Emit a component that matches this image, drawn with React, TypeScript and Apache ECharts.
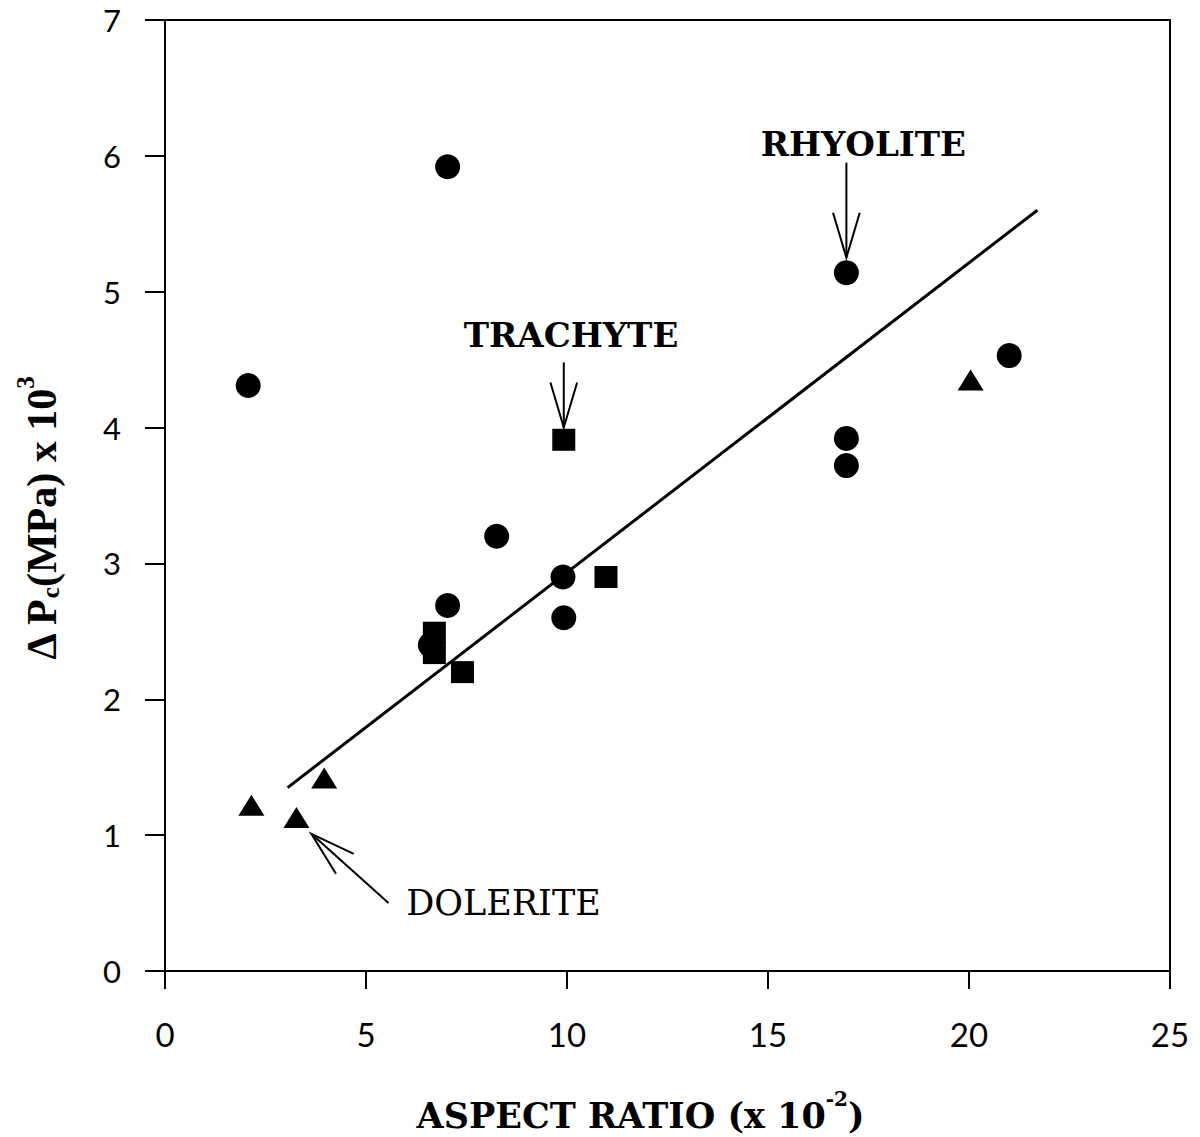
import React, { useEffect, useRef } from "react";
import * as echarts from "echarts";

const xTicks = [0, 5, 10, 15, 20, 25];
const yTicks = [0, 1, 2, 3, 4, 5, 6, 7];

const circlePoints = [
  [2.07, 4.31], [7.03, 5.92], [16.95, 5.14], [21.0, 4.53], [16.95, 3.92], [16.95, 3.72],
  [8.25, 3.2], [9.9, 2.9], [9.92, 2.6], [7.03, 2.69], [6.6, 2.4],
];
const squarePoints = [
  [9.92, 3.91], [10.97, 2.9], [7.4, 2.2], [6.7, 2.49], [6.7, 2.34],
];
const trianglePoints = [
  [2.15, 1.22], [3.27, 1.13], [3.96, 1.42], [20.04, 4.35],
];
const fitLine = [[3.05, 1.35], [21.7, 5.6]];

const annotationLabels = ["RHYOLITE", "TRACHYTE", "DOLERITE"];
const annotationWeights = ["bold", "bold", "normal"];
const annotationSizes = [34, 34, 35];
const annotationTextAt = [[17.37, 6.09], [10.1, 4.68], [8.42, 0.5]];
const arrowTails = [[16.95, 5.95], [9.92, 4.48], [5.56, 0.5]];
const arrowTips = [[16.95, 5.25], [9.92, 4.0], [3.64, 1.01]];

const SERIF = "'DejaVu Serif', 'Liberation Serif', serif";
const TIMES = "'Liberation Serif', 'DejaVu Serif', serif";
const SANS = "Lato, 'Open Sans', sans-serif";

export default function App() {
  const ref = useRef<HTMLDivElement>(null);
  useEffect(() => {
    document.body.style.margin = "0";
    if (!ref.current) return;
    const chart = echarts.init(ref.current, null, { renderer: "svg" });
    const option: any = {
      animation: false,
      backgroundColor: "#fff",
      grid: {
        left: 165, right: 30, top: 20, bottom: 166,
        outerBoundsMode: "none",
        containLabel: false,
        show: true, borderColor: "#000", borderWidth: 2, backgroundColor: "transparent",
      },
      xAxis: {
        type: "value", min: xTicks[0], max: xTicks[xTicks.length - 1], interval: 5,
        axisLine: { show: true, lineStyle: { color: "#000", width: 2 } },
        axisTick: { show: true, length: 18, lineStyle: { color: "#000", width: 2 } },
        splitLine: { show: false },
        axisLabel: { color: "#000", fontSize: 33, fontFamily: SANS, margin: 46 },
        name: "{a|ASPECT RATIO (x 10}{sup|-2}{a|)}",
        nameLocation: "middle",
        nameGap: 118,
        nameTextStyle: {
          padding: [0, 54, 0, 0],
          rich: {
            a: { fontSize: 35, fontWeight: "bold", fontFamily: SERIF, color: "#000", lineHeight: 44, verticalAlign: "bottom" },
            sup: { fontSize: 20, fontWeight: "bold", fontFamily: SERIF, color: "#000", lineHeight: 44, verticalAlign: "top", padding: [0, 0, 16, 0] },
          },
        },
      },
      yAxis: {
        type: "value", min: yTicks[0], max: yTicks[yTicks.length - 1], interval: 1,
        axisLine: { show: true, lineStyle: { color: "#000", width: 2 } },
        axisTick: { show: true, length: 20, lineStyle: { color: "#000", width: 2 } },
        splitLine: { show: false },
        axisLabel: { color: "#000", fontSize: 31, fontFamily: SANS, margin: 44 },
        name: "{a|Δ P}{sub|c}{a|(MPa) x 10}{sup|3}",
        nameLocation: "middle",
        nameGap: 102,
        nameRotate: 90,
        nameTextStyle: {
          padding: [0, 46, 0, 0],
          rich: {
            a: { fontSize: 42, fontWeight: "bold", fontFamily: TIMES, color: "#000", lineHeight: 50, verticalAlign: "bottom" },
            sub: { fontSize: 25, fontWeight: "bold", fontFamily: TIMES, color: "#000", lineHeight: 50, verticalAlign: "bottom", padding: [10, 0, 0, 0] },
            sup: { fontSize: 25, fontWeight: "bold", fontFamily: TIMES, color: "#000", lineHeight: 50, verticalAlign: "top", padding: [0, 0, 18, 0] },
          },
        },
      },
      series: [
        {
          type: "line", data: fitLine, symbol: "none",
          lineStyle: { color: "#000", width: 3 }, z: 2,
        },
        {
          type: "scatter", data: circlePoints, symbol: "circle", symbolSize: 25,
          itemStyle: { color: "#000", opacity: 1 }, z: 3,
        },
        {
          type: "scatter", data: squarePoints, symbol: "rect", symbolSize: [23, 22],
          itemStyle: { color: "#000", opacity: 1 }, z: 3,
        },
        {
          type: "scatter", data: trianglePoints, symbol: "triangle", symbolSize: [26, 21],
          itemStyle: { color: "#000", opacity: 1 }, z: 3,
        },
        {
          type: "custom",
          data: annotationTextAt,
          encode: { x: 0, y: 1 },
          clip: false,
          z: 4,
          renderItem: (params: any, api: any) => {
            const i = params.dataIndex;
            const t = api.coord(annotationTextAt[i]);
            const a = api.coord(arrowTails[i]);
            const b = api.coord(arrowTips[i]);
            const ang = Math.atan2(a[1] - b[1], a[0] - b[0]);
            const L = 47;
            const d = (16.5 * Math.PI) / 180;
            const w1 = [b[0] + L * Math.cos(ang + d), b[1] + L * Math.sin(ang + d)];
            const w2 = [b[0] + L * Math.cos(ang - d), b[1] + L * Math.sin(ang - d)];
            return {
              type: "group",
              children: [
                {
                  type: "text",
                  x: t[0], y: t[1],
                  style: {
                    text: annotationLabels[i],
                    fontSize: annotationSizes[i],
                    fontWeight: annotationWeights[i],
                    fontFamily: SERIF,
                    fill: "#000",
                    align: "center",
                    verticalAlign: "middle",
                  },
                },
                {
                  type: "line",
                  shape: { x1: a[0], y1: a[1], x2: b[0], y2: b[1] },
                  style: { stroke: "#000", lineWidth: 2 },
                },
                {
                  type: "polyline",
                  shape: { points: [w1, b, w2] },
                  style: { stroke: "#000", lineWidth: 2, fill: null },
                },
              ],
            };
          },
        },
      ],
    };
    chart.setOption(option);
    return () => chart.dispose();
  }, []);
  return <div ref={ref} style={{ width: 1200, height: 1137 }} />;
}
